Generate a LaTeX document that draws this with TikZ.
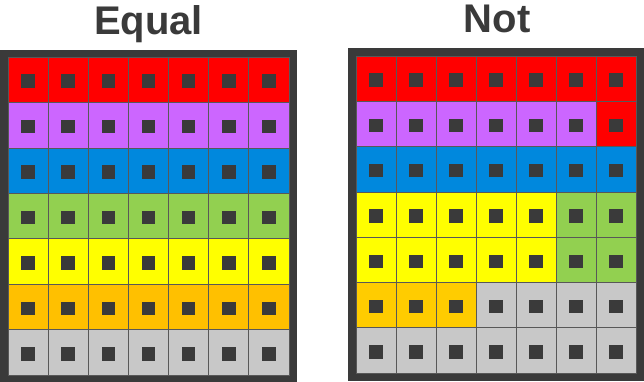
\documentclass[tikz,border=0pt]{standalone}
\usepackage{fontspec}
\setmainfont{Liberation Sans}
\definecolor{framegray}{HTML}{3A3A3A}
\definecolor{cred}{HTML}{FF0000}
\definecolor{cpurple}{HTML}{CC66FF}
\definecolor{cblue}{HTML}{0088DD}
\definecolor{cgreen}{HTML}{92D050}
\definecolor{cyellow}{HTML}{FFFF00}
\definecolor{corange}{HTML}{FFC000}
\definecolor{corangeb}{HTML}{FFCC00}
\definecolor{cgray}{HTML}{C8C8C8}

\begin{document}
\begin{tikzpicture}[x=1pt, y=-1pt,
  cell/.style={draw=framegray!85, line width=0.7pt},
  dot/.style={fill=framegray},
  title/.style={font=\bfseries\fontsize{40}{40}\selectfont, text=framegray, anchor=base, inner sep=0pt}]
  \useasboundingbox (0,0) rectangle (644,382);

  % titles
  \node (equal) [title] at (148.5,35) {Equal};
  \node (not) [title] at (497,33) {Not};

  % frames
  \fill[framegray] (0,50) rectangle (297,382);
  \fill[framegray] (348,48) rectangle (644,381);

  % left grid: one colour per row
  \foreach \col [count=\r from 0] in {cred,cpurple,cblue,cgreen,cyellow,corange,cgray}
    \foreach \c in {0,...,6} {
      \draw[cell, fill=\col] ({8+\c*40.14},{57+\r*45.43}) rectangle +(40.14,45.43);
      \fill[dot] ({28.07+\c*40.14},{81.2+\r*45.43}) ++(-6.75,-6.75) rectangle ++(13.5,13.5);
    }

  % right grid: colours per cell
  \foreach \r/\row in {
      0/{cred,cred,cred,cred,cred,cred,cred},
      1/{cpurple,cpurple,cpurple,cpurple,cpurple,cpurple,cred},
      2/{cblue,cblue,cblue,cblue,cblue,cblue,cblue},
      3/{cyellow,cyellow,cyellow,cyellow,cyellow,cgreen,cgreen},
      4/{cyellow,cyellow,cyellow,cyellow,cyellow,cgreen,cgreen},
      5/{corangeb,corangeb,corangeb,cgray,cgray,cgray,cgray},
      6/{cgray,cgray,cgray,cgray,cgray,cgray,cgray}}
    \foreach \col [count=\c from 0] in \row {
      \draw[cell, fill=\col] ({356+\c*40},{56+\r*45.29}) rectangle +(40,45.29);
      \fill[dot] ({376+\c*40},{80.1+\r*45.29}) ++(-6.75,-6.75) rectangle ++(13.5,13.5);
    }
\end{tikzpicture}
\end{document}
